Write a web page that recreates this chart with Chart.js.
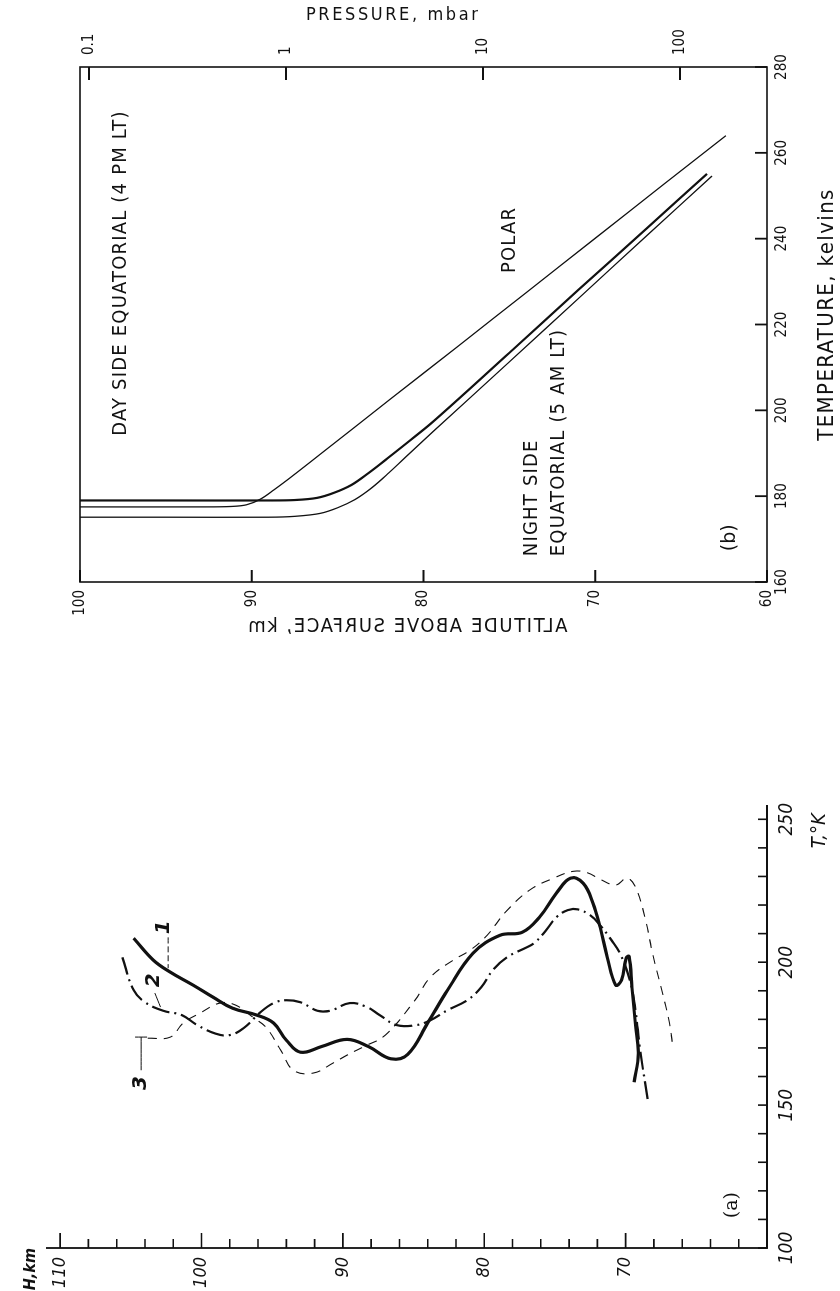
<!DOCTYPE html>
<html><head><meta charset="utf-8">
<script src="https://cdn.jsdelivr.net/npm/chart.js@4.4.1/dist/chart.umd.min.js"></script>
<style>
html,body{margin:0;padding:0;background:#fff;width:840px;height:1291px;overflow:hidden;position:relative}
canvas{position:absolute;left:0;top:0;transform-origin:0 0}
#cb{transform:translate(0px,660px) rotate(-90deg)}
#ca{transform:translate(0px,1291px) rotate(-90deg)}
.t{position:absolute;font-family:'DejaVu Sans Condensed','Liberation Sans Narrow','DejaVu Sans',sans-serif;color:#111;white-space:nowrap}
</style></head><body>
<canvas id="cb" width="660" height="840" style="width:660px;height:840px"></canvas>
<canvas id="ca" width="591" height="840" style="width:591px;height:840px"></canvas>
<div class="t" style="left:306px;top:3px;font-size:18px;letter-spacing:2.6px">PRESSURE, mbar</div>
<div class="t" style="left:232px;top:613px;width:350px;text-align:center;font-size:20px;letter-spacing:1.6px;transform:scaleX(-1)">ALTITUDE ABOVE SURFACE, km</div>
<script>
// ---------- Panel (b) data : temperature (K) vs altitude (km) ----------
const bTicksT = [160, 180, 200, 220, 240, 260, 280];
const bTicksAlt = [60, 70, 80, 90, 100];
const bTicksP = [0.1, 1, 10, 100];
const bLabelsP = ['0.1', '1', '10', '100'];
const polarAlt = [62.4, 66, 70, 74, 78, 82, 86, 87.5, 88.7, 89.5, 90.3, 91.2, 93, 100];
const polarT   = [264.0, 252.7, 240.1, 227.5, 214.9, 202.4, 189.8, 185.1, 181.5, 179.3, 178.0, 177.6, 177.5, 177.5];
const eq1Alt = [63.5, 67, 71, 75, 79.4, 81, 82.1, 83.2, 84.2, 85.2, 86.2, 87.5, 89, 95, 100];
const eq1T   = [255.1, 242.4, 228.0, 213.4, 197.5, 192.3, 188.8, 185.4, 182.6, 180.8, 179.6, 179.1, 179.0, 179.0, 179.0];
const eq2Alt = [63.2, 67, 71, 75, 79.4, 80.8, 82.0, 83.0, 84.0, 85.0, 86.0, 87.5, 89, 95, 100];
const eq2T   = [254.6, 240.7, 226.0, 211.3, 195.2, 190.0, 185.5, 182.0, 179.2, 177.3, 176.0, 175.3, 175.1, 175.1, 175.1];

// ---------- Panel (a) data : T (K) vs H (km) ----------
const aTicksT = [100, 110, 120, 130, 140, 150, 160, 170, 180, 190, 200, 210, 220, 230, 240, 250];
const aLabelsT = [100, 150, 200, 250];
const aTicksH = [60, 62, 64, 66, 68, 70, 72, 74, 76, 78, 80, 82, 84, 86, 88, 90, 92, 94, 96, 98, 100, 102, 104, 106, 108, 110];
const aLabelsH = [70, 80, 90, 100, 110];
const c1H = [104.8, 103.4, 102.2, 100.6, 99.2, 97.8, 96.1, 94.9, 94.0, 93.0, 91.5, 89.7, 88.2, 86.6, 85.4, 84.0, 82.6, 80.8, 78.9, 77.3, 76.1, 74.9, 73.9, 73.0, 72.3, 71.8, 71.3, 70.7, 70.3, 69.95, 69.75, 69.55, 69.3, 69.1, 69.4];
const c1T = [208.4, 200.7, 196.5, 192.0, 187.8, 183.9, 181.5, 178.7, 172.7, 168.5, 170.5, 173.0, 170.5, 166.2, 167.8, 178.7, 190.2, 203.1, 209.4, 210.5, 215.7, 224.1, 229.4, 227.6, 220.6, 212.2, 201.7, 192.0, 193.7, 201.5, 202.0, 191.0, 178.0, 168.0, 158.0];
const c2H = [105.6, 104.8, 104.0, 102.7, 101.4, 100.3, 99.0, 98.0, 97.0, 95.9, 94.9, 94.0, 93.0, 91.8, 90.9, 89.5, 88.3, 87.4, 86.2, 84.8, 83.8, 82.6, 81.2, 80.2, 79.4, 78.4, 77.0, 76.5, 75.8, 74.9, 74.1, 73.4, 72.5, 71.8, 71.0, 70.4, 69.7, 69.3, 69.0, 68.4];
const c2T = [201.7, 190.2, 186.0, 183.0, 181.5, 178.0, 175.0, 174.5, 177.0, 182.2, 185.7, 186.7, 186.0, 183.0, 183.0, 185.7, 184.3, 181.5, 178.0, 178.0, 179.7, 183.2, 186.7, 191.3, 197.2, 201.7, 205.2, 206.6, 210.1, 215.7, 218.2, 218.5, 216.4, 212.9, 207.7, 203.1, 193.7, 183.2, 170.3, 150.7];
const c3H = [103.8, 102.2, 101.3, 100.1, 98.7, 97.6, 96.3, 95.4, 94.4, 93.5, 92.1, 90.7, 89.7, 88.5, 87.0, 84.9, 83.8, 82.2, 81.0, 79.8, 78.5, 76.8, 75.1, 73.7, 72.7, 71.8, 70.7, 69.9, 69.3, 68.6, 68.1, 67.5, 66.9, 66.7];
const c3T = [173.4, 173.8, 178.7, 182.2, 185.7, 185.0, 180.5, 177.0, 169.2, 162.2, 161.2, 164.7, 167.5, 170.5, 174.5, 186.7, 194.8, 200.7, 204.2, 209.4, 217.5, 225.2, 229.4, 231.8, 231.3, 229.0, 227.0, 229.4, 226.2, 215.0, 203.1, 191.3, 178.7, 171.7];
// leader lines for the curve numbers
const lead1T = [208.7, 197.9], lead1H = [102.36, 102.36];
const lead2T = [189.2, 184.3], lead2H = [103.3, 102.9];
const lead3T = [173.8, 162.2], lead3H = [104.27, 104.27];
const bar3T = [173.8, 173.8], bar3H = [104.7, 103.85];

// ---------- helpers ----------
const FONT = "'DejaVu Sans Condensed','Liberation Sans Narrow','DejaVu Sans',sans-serif";
Chart.defaults.font.family = FONT;
Chart.defaults.color = '#111';
Chart.defaults.animation = false;
const pts = (xs, ys) => xs.map((x, i) => ({x: x, y: ys[i]}));
const INK = '#111';

// ---------- Panel (b) ----------
const bNotes = [
  {text: 'DAY SIDE EQUATORIAL (4 PM LT)', T: 232, alt: 97.6, align: 'center'},
  {text: 'POLAR', T: 239.7, alt: 75.0, align: 'center'},
  {text: 'NIGHT SIDE', T: 166.0, alt: 73.7, align: 'left'},
  {text: 'EQUATORIAL (5 AM LT)', T: 166.0, alt: 72.1, align: 'left'}
];
const bPlugin = {
  id: 'bdeco',
  afterDraw(chart) {
    const ctx = chart.ctx, ca = chart.chartArea;
    const sx = chart.scales.x, sy = chart.scales.y, sp = chart.scales.p;
    ctx.save();
    ctx.strokeStyle = INK; ctx.lineWidth = 1.6;
    ctx.strokeRect(ca.left, ca.top, ca.right - ca.left, ca.bottom - ca.top);
    ctx.lineWidth = 1.8;
    ctx.beginPath();
    sx.ticks.forEach(t => { const u = sx.getPixelForValue(t.value); ctx.moveTo(u, ca.bottom); ctx.lineTo(u, ca.bottom - 12); });
    sy.ticks.forEach(t => { const v = sy.getPixelForValue(t.value); ctx.moveTo(ca.left, v); ctx.lineTo(ca.left + 12, v); });
    sp.ticks.forEach(t => { const v = sp.getPixelForValue(t.value); ctx.moveTo(ca.right, v); ctx.lineTo(ca.right - 13, v); });
    ctx.stroke();
    ctx.fillStyle = INK;
    ctx.textBaseline = 'middle';
    ctx.font = '20px ' + FONT;
    ctx.letterSpacing = '1.2px';
    bNotes.forEach(n => {
      ctx.textAlign = n.align;
      ctx.fillText(n.text, sx.getPixelForValue(n.T), sy.getPixelForValue(n.alt));
    });
    ctx.textAlign = 'center';
    ctx.font = '22px ' + FONT;
    ctx.letterSpacing = '1.4px';
    ctx.fillText('TEMPERATURE, kelvins', (ca.left + ca.right) / 2 + 10, ca.bottom + 60);
    ctx.font = '19px DejaVu Sans, sans-serif';
    ctx.letterSpacing = '0px';
    ctx.fillText('(b)', sx.getPixelForValue(170.3), sy.getPixelForValue(62.15));
    ctx.restore();
  }
};
const lineB = (xs, ys, w) => ({data: pts(xs, ys), borderColor: INK, borderWidth: w, pointRadius: 0, fill: false, tension: 0.35, xAxisID: 'x', yAxisID: 'y'});
new Chart(document.getElementById('cb'), {
  type: 'line',
  data: {datasets: [lineB(polarT, polarAlt, 1.3), lineB(eq1T, eq1Alt, 2.2), lineB(eq2T, eq2Alt, 1.3)]},
  options: {
    responsive: false, events: [], animation: false,
    layout: {padding: {top: 80, left: 0, right: 0, bottom: 0}},
    plugins: {legend: {display: false}, tooltip: {enabled: false}},
    scales: {
      x: {type: 'linear', position: 'bottom', min: 160, max: 280,
          afterBuildTicks: s => { s.ticks = bTicksT.map(v => ({value: v})); },
          ticks: {padding: 6, font: {size: 15}, color: INK, maxRotation: 0, autoSkip: false},
          grid: {display: false, drawTicks: false}, border: {display: false},
          afterFit: s => { s.height = 73; }},
      y: {type: 'linear', position: 'left', min: 60, max: 100,
          afterBuildTicks: s => { s.ticks = bTicksAlt.map(v => ({value: v})); },
          ticks: {padding: 8, font: {size: 15}, color: INK, autoSkip: false},
          grid: {display: false, drawTicks: false}, border: {display: false},
          afterFit: s => { s.width = 78; }},
      p: {type: 'logarithmic', position: 'right', min: 0.09, max: 276.4, reverse: true,
          afterBuildTicks: s => { s.ticks = bTicksP.map(v => ({value: v})); },
          ticks: {padding: 12, font: {size: 15}, color: INK, autoSkip: false,
                  callback: (v, i) => bLabelsP[i]},
          grid: {display: false, drawTicks: false}, border: {display: false},
          afterFit: s => { s.width = 67; }}
    }
  },
  plugins: [bPlugin]
});

// ---------- Panel (a) ----------
const aNotes = [
  {text: '1', T: 212.2, H: 102.7, font: 'italic bold 20px DejaVu Sans, sans-serif'},
  {text: '2', T: 193.7, H: 103.4, font: 'italic bold 20px DejaVu Sans, sans-serif'},
  {text: '3', T: 157.7, H: 104.3, font: 'italic bold 20px DejaVu Sans, sans-serif'},
  {text: '(a)', T: 115, H: 62.5, font: '19px DejaVu Serif, serif'},
  {text: 'H,km', T: 92.6, H: 112.1, font: 'italic bold 16px ' + FONT},
  {text: 'T,°K', T: 246, H: 56.3, font: 'italic 20px ' + FONT}
];
const aPlugin = {
  id: 'adeco',
  afterDraw(chart) {
    const ctx = chart.ctx, ca = chart.chartArea;
    const sx = chart.scales.x, sy = chart.scales.y;
    ctx.save();
    ctx.strokeStyle = INK; ctx.lineWidth = 1.8;
    ctx.beginPath();
    ctx.moveTo(ca.left, ca.top); ctx.lineTo(ca.left, ca.bottom); ctx.lineTo(ca.right, ca.bottom);
    ctx.stroke();
    ctx.lineWidth = 1.6;
    ctx.beginPath();
    sy.ticks.forEach(t => { const v = sy.getPixelForValue(t.value); const len = (t.value % 10 === 0) ? 15 : 9; ctx.moveTo(ca.left, v); ctx.lineTo(ca.left + len, v); });
    sx.ticks.forEach(t => { const u = sx.getPixelForValue(t.value); ctx.moveTo(u, ca.bottom); ctx.lineTo(u, ca.bottom - 9); });
    ctx.stroke();
    ctx.fillStyle = INK;
    ctx.textAlign = 'center';
    ctx.textBaseline = 'middle';
    aNotes.forEach(n => {
      ctx.font = n.font;
      ctx.fillText(n.text, sx.getPixelForValue(n.T), sy.getPixelForValue(n.H));
    });
    ctx.restore();
  }
};
const lineA = (xs, ys, w, dash) => ({data: pts(xs, ys), borderColor: INK, borderWidth: w, borderDash: dash, pointRadius: 0, fill: false, tension: 0.4});
new Chart(document.getElementById('ca'), {
  type: 'line',
  data: {datasets: [
    lineA(c1T, c1H, 3.2, []),
    lineA(c2T, c2H, 2.2, [18, 5, 2, 5]),
    lineA(c3T, c3H, 1.1, [9, 7]),
    lineA(lead1T, lead1H, 1, [6, 3]),
    lineA(lead2T, lead2H, 1, []),
    lineA(lead3T, lead3H, 1, []),
    lineA(bar3T, bar3H, 1, [])
  ]},
  options: {
    responsive: false, events: [], animation: false,
    layout: {padding: {top: 46, left: 0, right: 105, bottom: 0}},
    plugins: {legend: {display: false}, tooltip: {enabled: false}},
    scales: {
      x: {type: 'linear', position: 'bottom', min: 100, max: 255,
          afterBuildTicks: s => { s.ticks = aTicksT.map(v => ({value: v})); },
          ticks: {padding: 9, font: {size: 19, style: 'italic'}, color: INK, maxRotation: 0, autoSkip: false,
                  callback: v => aLabelsT.includes(v) ? String(v) : ''},
          grid: {display: false, drawTicks: false}, border: {display: false},
          afterFit: s => { s.height = 73; }},
      y: {type: 'linear', position: 'left', min: 60, max: 111,
          afterBuildTicks: s => { s.ticks = aTicksH.map(v => ({value: v})); },
          ticks: {padding: 9, font: {size: 18, style: 'italic'}, color: INK, autoSkip: false,
                  callback: v => aLabelsH.includes(v) ? String(v) : ''},
          grid: {display: false, drawTicks: false}, border: {display: false},
          afterFit: s => { s.width = 43; }}
    }
  },
  plugins: [aPlugin]
});
</script>
</body></html>
